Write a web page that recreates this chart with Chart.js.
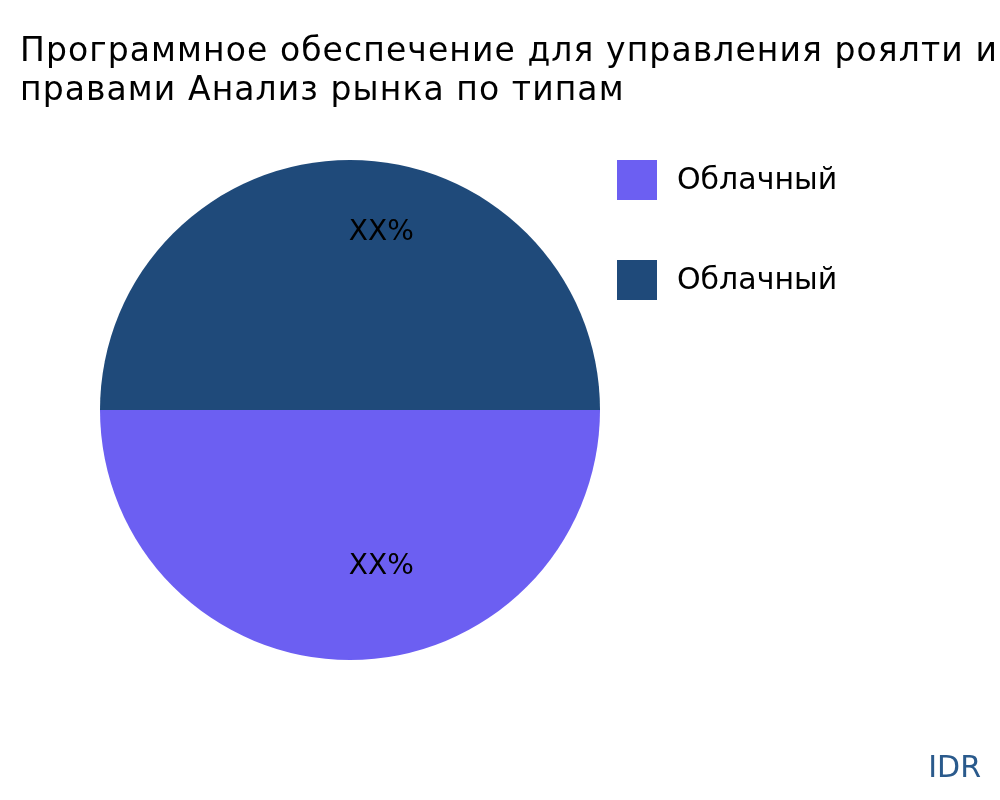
<!DOCTYPE html>
<html>
<head>
<meta charset="utf-8">
<script src="https://cdn.jsdelivr.net/npm/chart.js@4.4.0/dist/chart.umd.min.js"></script>
<style>
html,body{margin:0;padding:0;background:#fff;overflow:hidden;}
#wrap{position:relative;width:1000px;height:800px;}
</style>
</head>
<body>
<div id="wrap"><canvas id="c" width="1000" height="800"></canvas></div>
<script>
const titleLines = ['Программное обеспечение для управления роялти и', 'правами Анализ рынка по типам'];
const categories = ['Облачный', 'Облачный'];
const values = [50, 50];
const valueLabels = ['XX%', 'XX%'];
const colors = ['#6c5ff2', '#1f4a7a'];
const sourceText = 'IDR';

const FONT = '"DejaVu Sans", Verdana, sans-serif';

const decor = {
  id: 'decor',
  afterDatasetsDraw(chart) {
    const ctx = chart.ctx;
    const meta = chart.getDatasetMeta(0);
    ctx.save();
    ctx.fillStyle = '#000';
    ctx.font = '28px ' + FONT;
    ctx.textAlign = 'center';
    ctx.textBaseline = 'middle';
    const radial = [0.625, 0.71];
    meta.data.forEach((arc, i) => {
      const mid = (arc.startAngle + arc.endAngle) / 2;
      const r = arc.outerRadius * radial[i];
      const x = arc.x + Math.cos(mid) * r + arc.outerRadius * 0.125;
      const y = arc.y + Math.sin(mid) * r;
      ctx.fillText(valueLabels[i], x, y);
    });
    ctx.restore();
  },
  afterDraw(chart) {
    const ctx = chart.ctx;
    ctx.save();
    ctx.fillStyle = '#000';
    ctx.font = '33px ' + FONT;
    ctx.textAlign = 'left';
    ctx.textBaseline = 'alphabetic';
    const w0 = ctx.measureText(titleLines[0]).width;
    const ls = Math.max(0, (977 - w0) / (titleLines[0].length - 1));
    ctx.letterSpacing = ls.toFixed(2) + 'px';
    titleLines.forEach((t, i) => ctx.fillText(t, 20, 61 + i * 39));
    ctx.letterSpacing = '0px';
    ctx.font = '30px ' + FONT;
    ctx.textBaseline = 'middle';
    categories.forEach((c, i) => {
      const y = 160 + i * 100;
      ctx.fillStyle = colors[i];
      ctx.fillRect(617, y, 40, 40);
      ctx.fillStyle = '#000';
      ctx.fillText(c, 677, y + 21);
    });
    ctx.fillStyle = '#2a5a8c';
    ctx.font = '30px ' + FONT;
    ctx.textAlign = 'right';
    ctx.fillText(sourceText, 981, 769);
    ctx.restore();
  }
};

new Chart(document.getElementById('c'), {
  type: 'pie',
  data: {
    labels: categories,
    datasets: [{
      data: values,
      backgroundColor: colors,
      borderWidth: 0
    }]
  },
  options: {
    responsive: false,
    animation: false,
    rotation: 90,
    layout: { padding: { left: 100, right: 400, top: 160, bottom: 140 } },
    plugins: {
      legend: { display: false },
      tooltip: { enabled: false },
      title: { display: false }
    }
  },
  plugins: [decor]
});
</script>
</body>
</html>
